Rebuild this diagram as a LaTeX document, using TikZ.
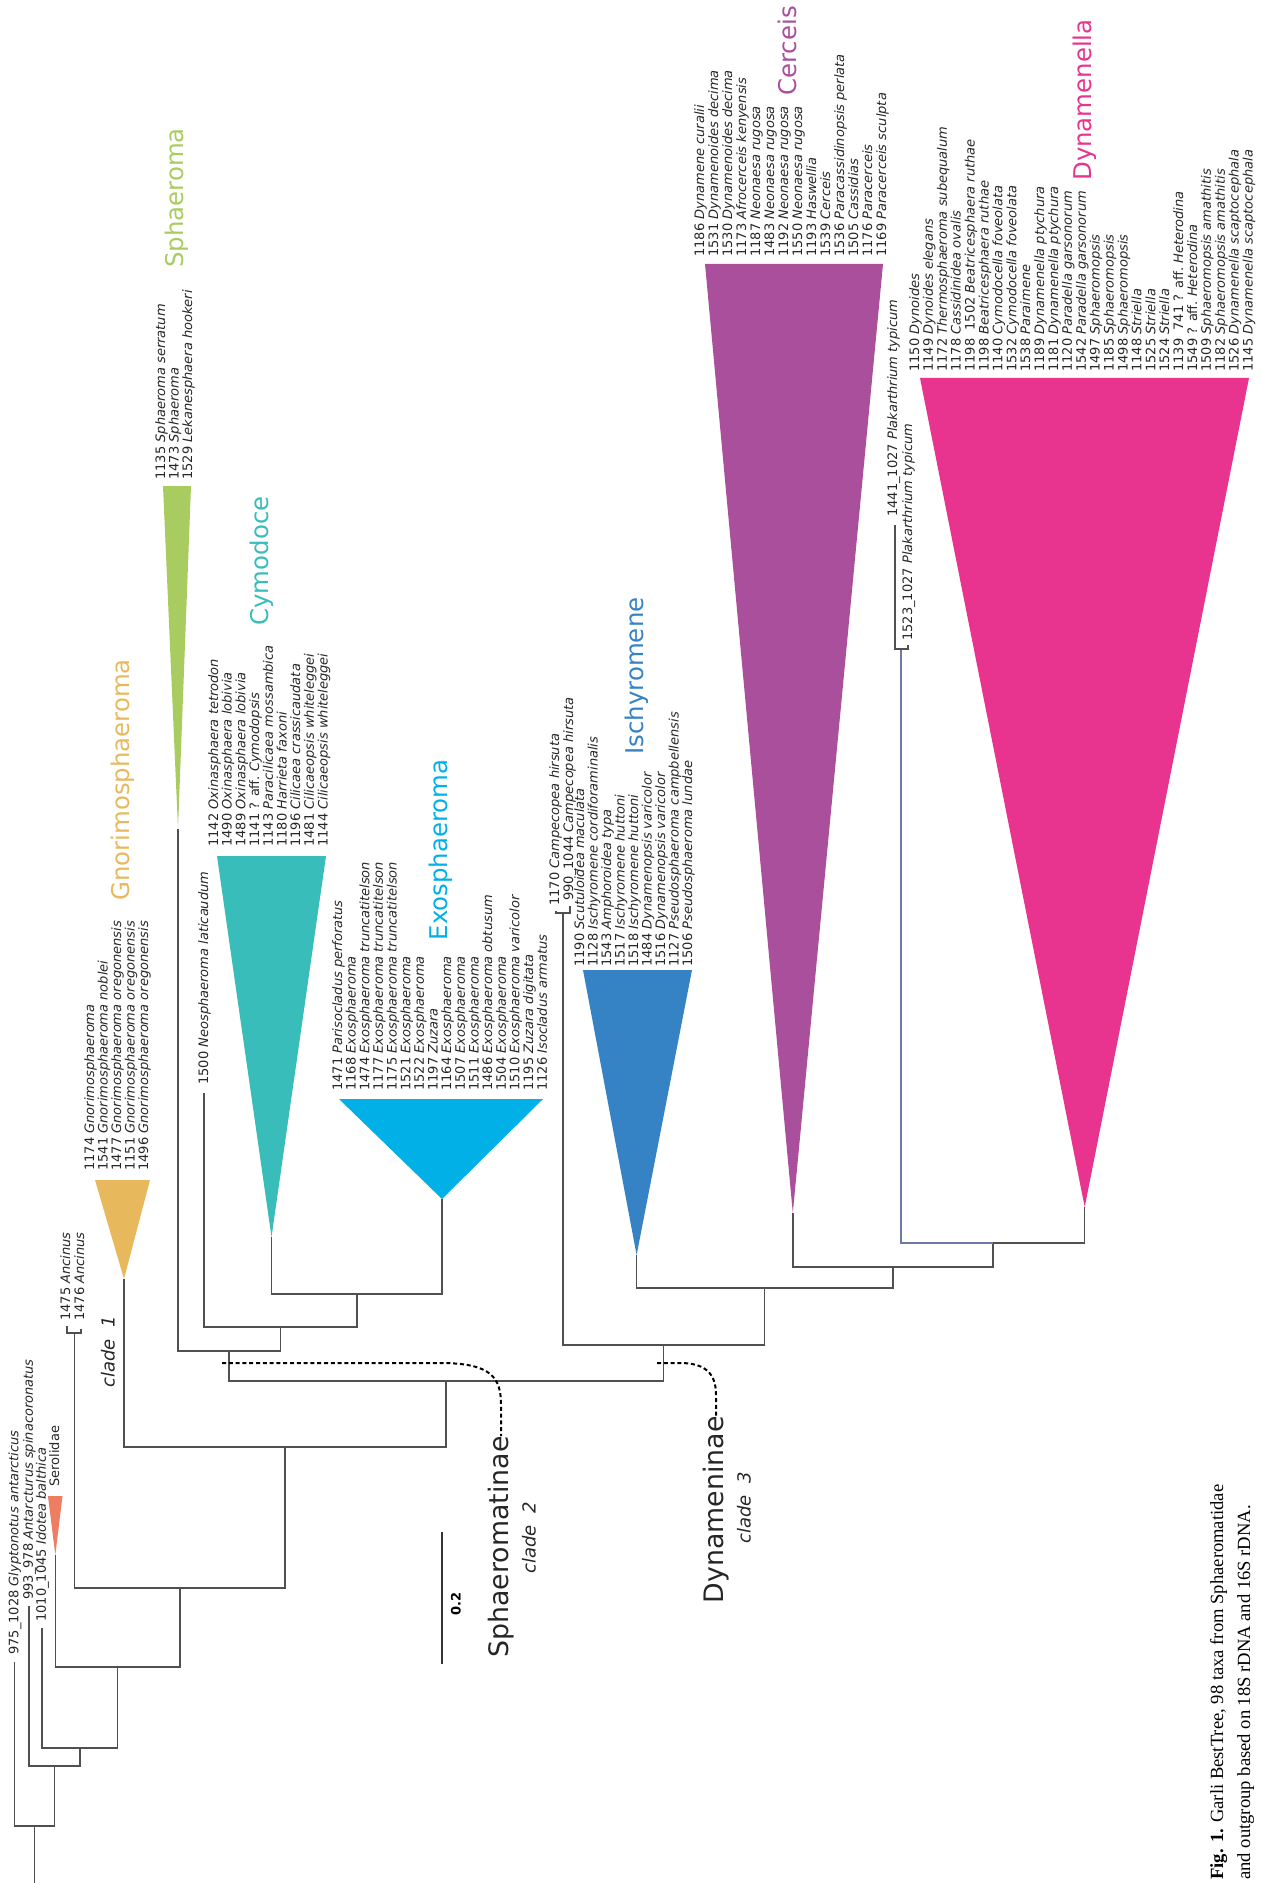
\documentclass[tikz,border=0pt]{standalone}
\usepackage{fontspec}
\setmainfont{DejaVu Sans}
\newfontfamily\capfont{Liberation Serif}
\definecolor{treegray}{RGB}{80,80,80}
\definecolor{cSer}{RGB}{238,126,98}
\definecolor{cGno}{RGB}{232,185,92}
\definecolor{cSph}{RGB}{168,204,96}
\definecolor{cCym}{RGB}{56,189,186}
\definecolor{cExo}{RGB}{0,176,230}
\definecolor{cIsc}{RGB}{53,130,196}
\definecolor{cCer}{RGB}{169,79,156}
\definecolor{cDyn}{RGB}{232,52,143}
\definecolor{cPla}{RGB}{110,120,165}
\newcommand\taxlist[5]{\foreach \n/\s [count=\i] in {#5}{\node[lbl] (#1\i) at ({#2+(\i-1)*#3+4},#4) {\n\ \textit{\s}};}}
\begin{document}
\begin{tikzpicture}[x=0.5pt,y=-0.5pt,
  br/.style={draw=treegray,line width=0.7pt},
  lbl/.style={rotate=90,anchor=base west,inner sep=0pt,text=black!85,font=\fontsize{6.5}{7}\selectfont},
  bigl/.style={rotate=90,inner sep=0pt,font=\fontsize{12.2}{14}\selectfont},
  sub/.style={rotate=90,inner sep=0pt,anchor=east,text=black!85,font=\fontsize{13.4}{16}\selectfont},
  cl/.style={rotate=90,inner sep=0pt,anchor=east,text=black!85,font=\fontsize{9}{11}\selectfont\itshape},
  dcur/.style={draw=black,line width=1pt,dash pattern=on 2pt off 1.4pt},
  capl/.style={rotate=90,anchor=base west,inner sep=0pt,font=\capfont\fontsize{9.3}{11}\selectfont}]
\useasboundingbox (0,0) rectangle (1260,1883);
% ---- internal nodes
\coordinate (root) at (34.3,1826);
\coordinate (bot) at (34.3,1883);
\coordinate (o1) at (54.3,1766);
\coordinate (o2) at (79.8,1748);
\coordinate (o3) at (117.5,1667);
\coordinate (ing) at (179.8,1588);
\coordinate (c1) at (285,1447);
\coordinate (c23) at (446,1381);
\coordinate (c2) at (229,1351);
\coordinate (nce) at (280.5,1327);
\coordinate (ce) at (356.8,1294);
\coordinate (c3) at (663.6,1345);
\coordinate (d2) at (764.7,1288);
\coordinate (d3) at (892.8,1267);
\coordinate (d4) at (992.9,1243);
% ---- tips
\coordinate (tGly) at (14.4,1662);
\coordinate (tAnt) at (28.8,1606);
\coordinate (tIdo) at (42,1628);
\coordinate (tSer) at (55.3,1555);
\coordinate (tAnc) at (74.5,1333);
\coordinate (tA1) at (67,1326);
\coordinate (tA2) at (81,1329);
\coordinate (tGno) at (124,1279);
\coordinate (tSph) at (178,829);
\coordinate (tNeo) at (204,1093);
\coordinate (tCym) at (271.5,1237);
\coordinate (tExo) at (442,1199);
\coordinate (tCam) at (563,913);
\coordinate (tC1) at (556,911);
\coordinate (tC2) at (570,906);
\coordinate (tIsc) at (636.6,1255);
\coordinate (tCer) at (792.8,1213);
\coordinate (tPla) at (901,649);
\coordinate (tP1) at (895,525);
\coordinate (tDyn) at (1084.7,1207);
% ---- triangles
\fill[cSer] (tSer) -- (48,1496) -- (62.5,1496) -- cycle;
\fill[cGno] (tGno) -- (95,1180) -- (150,1180) -- cycle;
\fill[cSph] (tSph) -- (163,486) -- (191,486) -- cycle;
\fill[cCym] (tCym) -- (217,856) -- (326,856) -- cycle;
\fill[cExo] (tExo) -- (339,1099) -- (543,1099) -- cycle;
\fill[cIsc] (tIsc) -- (583,970) -- (692,970) -- cycle;
\fill[cCer] (tCer) -- (705,264) -- (883,264) -- cycle;
\fill[cDyn] (tDyn) -- (920,378) -- (1249,378) -- cycle;
% ---- branches
\draw[br] (root) -- (bot);
\draw[br] (tGly) |- (root); \draw[br] (o1) |- (root);
\draw[br] (tAnt) |- (o1); \draw[br] (o2) |- (o1);
\draw[br] (tIdo) |- (o2); \draw[br] (o3) |- (o2);
\draw[br] (tSer) |- (o3); \draw[br] (ing) |- (o3);
\draw[br] (tAnc) |- (ing); \draw[br] (c1) |- (ing);
\draw[br] (tA1) |- (tAnc); \draw[br] (tA2) |- (tAnc);
\draw[br] (tGno) |- (c1); \draw[br] (c23) |- (c1);
\draw[br] (c2) |- (c23); \draw[br] (c3) |- (c23);
\draw[br] (tSph) |- (c2); \draw[br] (nce) |- (c2);
\draw[br] (tNeo) |- (nce); \draw[br] (ce) |- (nce);
\draw[br] (tCym) |- (ce); \draw[br] (tExo) |- (ce);
\draw[br] (tCam) |- (c3); \draw[br] (d2) |- (c3);
\draw[br] (tC1) |- (tCam); \draw[br] (tC2) |- (tCam);
\draw[br] (tIsc) |- (d2); \draw[br] (d3) |- (d2);
\draw[br] (tCer) |- (d3); \draw[br] (d4) |- (d3);
\draw[br,draw=cPla] (tPla) |- (d4); \draw[br] (tDyn) |- (d4);
\draw[br] (tP1) |- (tPla); \draw[br] (908,645) |- (tPla);
% ---- outgroup labels
\node[lbl] (lGly) at (18.4,1655) {975\_1028 \textit{Glyptonotus antarcticus}};
\node[lbl] (lAnt) at (32.8,1600) {993\_978 \textit{Antarcturus spinacoronatus}};
\node[lbl] (lIdo) at (46,1622) {1010\_1045 \textit{Idotea balthica}};
\node[lbl] (lSer) at (59,1487) {Serolidae};
% ---- taxon lists
\taxlist{sph}{161}{13.5}{480}{1135/Sphaeroma serratum,1473/Sphaeroma,1529/Lekanesphaera hookeri}
\taxlist{gno}{90}{13.5}{1171}{1174/Gnorimosphaeroma,1541/Gnorimosphaeroma noblei,1477/Gnorimosphaeroma oregonensis,1151/Gnorimosphaeroma oregonensis,1496/Gnorimosphaeroma oregonensis}
\taxlist{anc}{66}{14}{1321}{1475/Ancinus,1476/Ancinus}
\node[lbl] (lNeo) at (208,1085) {1500 \textit{Neosphaeroma laticaudum}};
\taxlist{cym}{214}{13.7}{847}{1142/Oxinasphaera tetrodon,1490/Oxinasphaera lobivia,1489/Oxinasphaera lobivia,1141 ? aff./Cymodopsis,1143/Paracilicaea mossambica,1180/Harrieta faxoni,1196/Cilicaea crassicaudata,1481/Cilicaeopsis whiteleggei,1144/Cilicaeopsis whiteleggei}
\taxlist{exo}{338}{13.65}{1091}{1471/Parisocladus perforatus,1168/Exosphaeroma,1474/Exosphaeroma truncatitelson,1177/Exosphaeroma truncatitelson,1175/Exosphaeroma truncatitelson,1521/Exosphaeroma,1522/Exosphaeroma,1197/Zuzara,1164/Exosphaeroma,1507/Exosphaeroma,1511/Exosphaeroma,1486/Exosphaeroma obtusum,1504/Exosphaeroma,1510/Exosphaeroma varicolor,1195/Zuzara digitata,1126/Isocladus armatus}
\node[lbl] (lC1) at (559,906) {1170 \textit{Campecopea hirsuta}};
\node[lbl] (lC2) at (573,901) {990\_1044 \textit{Campecopea hirsuta}};
\taxlist{isc}{580}{13.5}{967}{1190/Scutuloidea maculata,1128/Ischyromene cordiforaminalis,1543/Amphoroidea typa,1517/Ischyromene huttoni,1518/Ischyromene huttoni,1484/Dynamenopsis varicolor,1516/Dynamenopsis varicolor,1127/Pseudosphaeroma campbellensis,1506/Pseudosphaeroma lundae}
\taxlist{cer}{700}{14}{257}{1186/Dynamene curalii,1531/Dynamenoides decima,1530/Dynamenoides decima,1173/Afrocerceis kenyensis,1187/Neonaesa rugosa,1483/Neonaesa rugosa,1192/Neonaesa rugosa,1550/Neonaesa rugosa,1193/Haswellia,1539/Cerceis,1536/Paracassidinopsis perlata,1505/Cassidias,1176/Paracerceis,1169/Paracerceis sculpta}
\node[lbl] (lP1) at (897,517) {1441\_1027 \textit{Plakarthrium typicum}};
\node[lbl] (lP2) at (912,641) {1523\_1027 \textit{Plakarthrium typicum}};
\taxlist{dyn}{915}{13.9}{372}{1150/Dynoides,1149/Dynoides elegans,1172/Thermosphaeroma subequalum,1178/Cassidinidea ovalis,1198\ \ 1502/Beatricesphaera ruthae,1198/Beatricesphaera ruthae,1140/Cymodocella foveolata,1532/Cymodocella foveolata,1538/Paraimene,1189/Dynamenella ptychura,1181/Dynamenella ptychura,1120/Paradella garsonorum,1542/Paradella garsonorum,1497/Sphaeromopsis,1185/Sphaeromopsis,1498/Sphaeromopsis,1148/Striella,1525/Striella,1524/Striella,1139\ \ 741 ? aff./Heterodina,1549 ? aff./Heterodina,1509/Sphaeromopsis amathitis,1182/Sphaeromopsis amathitis,1526/Dynamenella scaptocephala,1145/Dynamenella scaptocephala}
% ---- clade names
\node[bigl,text=cSph] (nSph) at (176.6,198) {Sphaeroma};
\node[bigl,text=cGno] (nGno) at (122.5,780) {Gnorimosphaeroma};
\node[bigl,text=cCym] (nCym) at (262,561) {Cymodoce};
\node[bigl,text=cExo] (nExo) at (441,850) {Exosphaeroma};
\node[bigl,text=cIsc] (nIsc) at (636.6,676) {Ischyromene};
\node[bigl,text=cCer] (nCer) at (787,51) {Cerceis};
\node[bigl,text=cDyn] (nDyn) at (1085,100) {Dynamenella};
% ---- subfamilies
\node[cl] (cl1) at (108,1316) {clade\ \ 1};
\node[sub] (sphm) at (501,1436) {Sphaeromatinae};
\node[cl] (cl2) at (529,1502) {clade\ \ 2};
\node[sub] (dynm) at (716,1416) {Dynameninae};
\node[cl] (cl3) at (744,1472) {clade\ \ 3};
\coordinate (dS) at (222,1363);
\coordinate (dD) at (657,1363);
\draw[dcur] (dS) -- (440,1363) .. controls (492,1363) and (501,1378) .. (501,1405) -- (sphm.east);
\draw[dcur] (dD) -- (680,1363) .. controls (706,1363) and (716,1374) .. (716,1395) -- (dynm.east);
% ---- scale bar
\coordinate (sb1) at (442,1532);
\coordinate (sb2) at (442,1664);
\draw[br,draw=black!80] (sb1) -- (sb2);
\node[rotate=90,inner sep=0pt,font=\fontsize{6.5}{8}\selectfont\bfseries] (sbl) at (456,1604) {0.2};
% ---- caption
\node[capl] (cap1) at (1223,1880) {\textbf{Fig. 1.} Garli BestTree, 98 taxa from Sphaeromatidae};
\node[capl] (cap2) at (1250,1880) {and outgroup based on 18S rDNA and 16S rDNA.};
\end{tikzpicture}
\end{document}
